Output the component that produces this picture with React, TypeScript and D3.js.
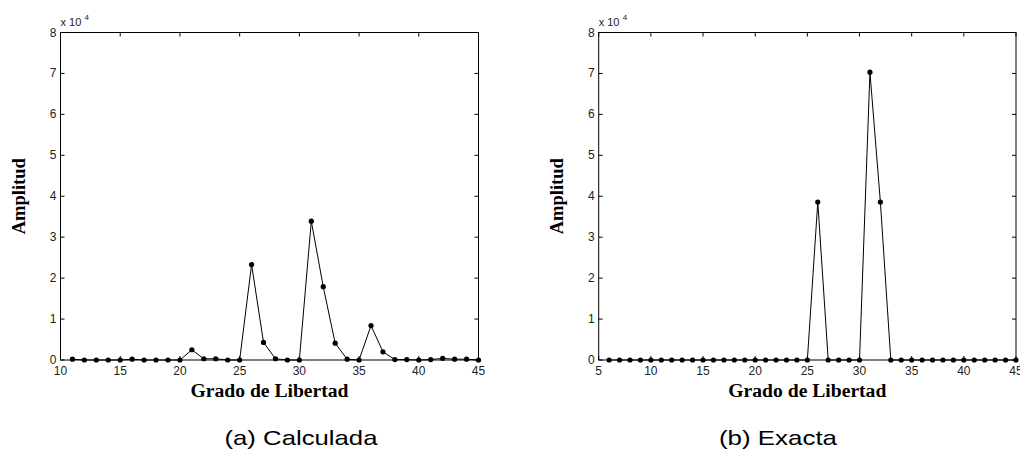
import React from "react";
import * as d3 from "d3";

const calcX = [11,12,13,14,15,16,17,18,19,20,21,22,23,24,25,26,27,28,29,30,31,32,33,34,35,36,37,38,39,40,41,42,43,44,45];
const calcY = [0.02,0,0,0,0,0.02,0,0,0,0,0.25,0.03,0.03,0,0,2.33,0.43,0.03,0,0,3.39,1.79,0.41,0.02,0,0.84,0.2,0.01,0.01,0,0.01,0.04,0.02,0.02,0];

const exactX = [6,7,8,9,10,11,12,13,14,15,16,17,18,19,20,21,22,23,24,25,26,27,28,29,30,31,32,33,34,35,36,37,38,39,40,41,42,43,44,45];
const exactY = [0,0,0,0,0,0,0,0,0,0,0,0,0,0,0,0,0,0,0,0,3.86,0,0,0,0,7.03,3.86,0,0,0,0,0,0,0,0,0,0,0,0,0];

const yTicks = [0,1,2,3,4,5,6,7,8];
const calcXTicks = [10,15,20,25,30,35,40,45];
const exactXTicks = [5,10,15,20,25,30,35,40,45];

type PanelProps = {
  left: number; right: number; xDomain: [number, number];
  xs: number[]; ys: number[]; xTicks: number[];
  caption: string; captionX: number; captionLen: number;
};

const TOP = 32.5;
const BOTTOM = 360;

function Panel({ left, right, xDomain, xs, ys, xTicks, caption, captionX, captionLen }: PanelProps) {
  const x = d3.scaleLinear().domain(xDomain).range([left, right]);
  const y = d3.scaleLinear().domain([0, 8]).range([BOTTOM, TOP]);
  const pts = xs.map((v, i) => [x(v), y(ys[i])] as [number, number]);
  const line = d3.line()(pts) || "";
  const tl = 4;
  const cx = (left + right) / 2;
  const cy = (TOP + BOTTOM) / 2;
  return (
    <g>
      <rect x={left} y={TOP} width={right - left} height={BOTTOM - TOP} fill="none" stroke="#000" strokeWidth={1} />
      {yTicks.map((t) => (
        <g key={"y" + t}>
          <line x1={left} x2={left + tl} y1={y(t)} y2={y(t)} stroke="#000" />
          <line x1={right} x2={right - tl} y1={y(t)} y2={y(t)} stroke="#000" />
          <text x={left - 4} y={y(t) + 4} textAnchor="end" fontFamily="Arial, Liberation Sans, sans-serif" fontSize={12} fill="#222">{t}</text>
        </g>
      ))}
      {xTicks.map((t) => (
        <g key={"x" + t}>
          <line x1={x(t)} x2={x(t)} y1={BOTTOM} y2={BOTTOM - tl} stroke="#000" />
          <line x1={x(t)} x2={x(t)} y1={TOP} y2={TOP + tl} stroke="#000" />
          <text x={x(t)} y={375} textAnchor="middle" fontFamily="Arial, Liberation Sans, sans-serif" fontSize={12} fill="#222">{t}</text>
        </g>
      ))}
      <text x={left} y={26} fontFamily="Arial, Liberation Sans, sans-serif" fontSize={11} fill="#222">x 10</text>
      <text x={left + 24} y={20} fontFamily="Arial, Liberation Sans, sans-serif" fontSize={8} fill="#222">4</text>
      <path d={line} fill="none" stroke="#000" strokeWidth={1} />
      {pts.map((p, i) => (
        <circle key={i} cx={p[0]} cy={p[1]} r={2.6} fill="#000" />
      ))}
      <text x={cx} y={397} textAnchor="middle" fontFamily="Liberation Serif, Times New Roman, serif" fontWeight="bold" fontSize={18} textLength={158} lengthAdjust="spacingAndGlyphs">Grado de Libertad</text>
      <text transform={`translate(${left - 36},${cy}) rotate(-90)`} textAnchor="middle" fontFamily="Liberation Serif, Times New Roman, serif" fontWeight="bold" fontSize={18} textLength={76} lengthAdjust="spacingAndGlyphs">Amplitud</text>
      <text x={captionX} y={445} textAnchor="middle" fontFamily="Arial, Liberation Sans, sans-serif" fontSize={21} textLength={captionLen} lengthAdjust="spacingAndGlyphs">{caption}</text>
    </g>
  );
}

export default function App() {
  return (
    <div style={{ position: "fixed", left: 0, top: 0 }}>
      <svg width={1020} height={453} style={{ display: "block", background: "#fff" }}>
        <rect width={1020} height={453} fill="#fff" />
        <Panel left={60.5} right={478.5} xDomain={[10, 45]} xs={calcX} ys={calcY} xTicks={calcXTicks} caption="(a) Calculada" captionX={301} captionLen={153} />
        <Panel left={598.7} right={1016} xDomain={[5, 45]} xs={exactX} ys={exactY} xTicks={exactXTicks} caption="(b) Exacta" captionX={778} captionLen={118} />
      </svg>
    </div>
  );
}
